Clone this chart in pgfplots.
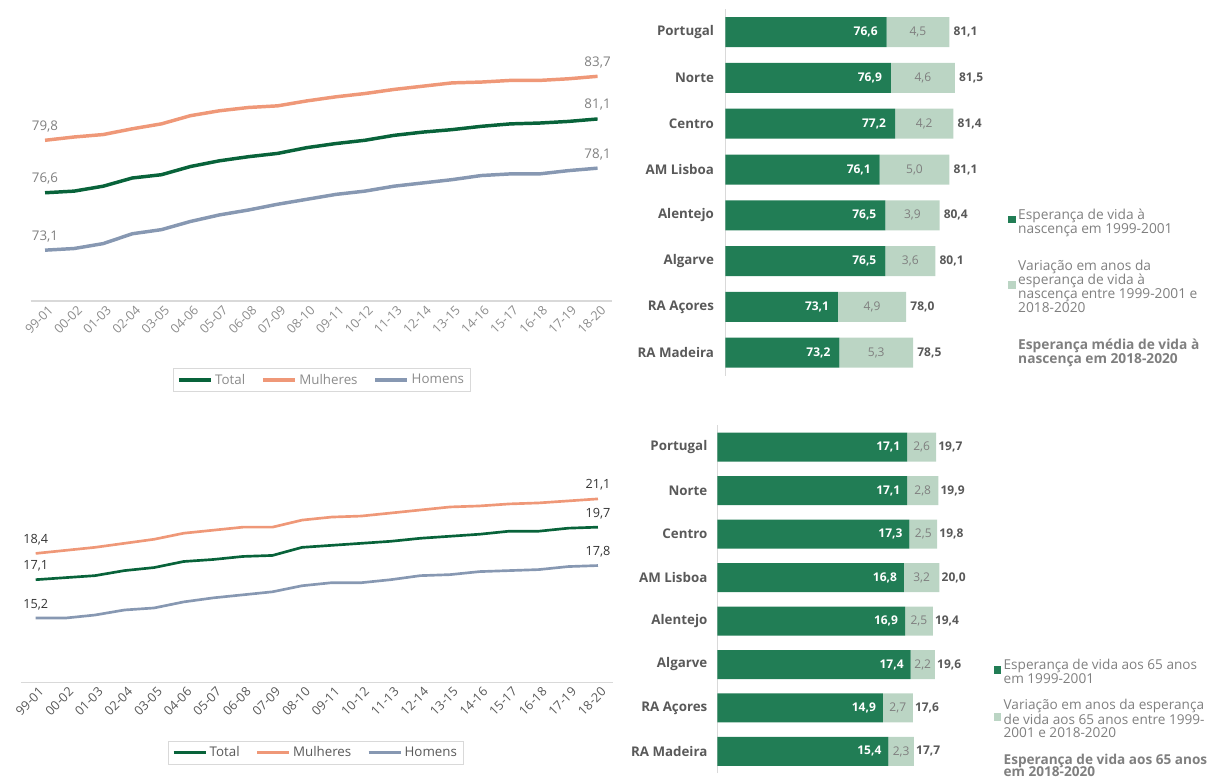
\documentclass[border=0pt]{standalone}
\usepackage{fontspec}
\setmainfont{Open Sans}
\usepackage{pgfplots}
\pgfplotsset{compat=1.18}
\definecolor{cTotal}{HTML}{08633A}
\definecolor{cMul}{HTML}{EF9878}
\definecolor{cHom}{HTML}{8798B2}
\definecolor{cDark}{HTML}{217D55}
\definecolor{cLight}{HTML}{BBD5C4}
\definecolor{cTxt}{HTML}{595959}
\definecolor{cTick}{HTML}{8C8C8C}
\definecolor{cLbl}{HTML}{7F7F7F}
\definecolor{cAxis}{HTML}{D9D9D9}
\pgfplotsset{
  barbase/.style={
    scale only axis, ymin=-0.5, ymax=7.5,
    xtick=\empty, major tick length=0pt,
  },
}
\begin{document}
\begin{tikzpicture}
\useasboundingbox (0,0) rectangle (906.75pt,587.25pt);

% ---------------- top-left: life expectancy at birth ----------------
\begin{axis}[
  at={(22.875pt,361.5pt)}, anchor=south west,
  scale only axis, width=436.2pt, height=221.4pt,
  xmin=-0.5, xmax=19.5, ymin=70, ymax=88,
  axis x line*=bottom, axis y line=none,
  x axis line style={draw=cAxis, line width=0.8pt},
  xtick={0,...,19},
  xticklabels={99-01,00-02,01-03,02-04,03-05,04-06,05-07,06-08,07-09,08-10,09-11,10-12,11-13,12-14,13-15,14-16,15-17,16-18,17-19,18-20},
  x tick label style={rotate=45, anchor=north east, font=\fontsize{9.5}{10}\selectfont, text=cTick, inner sep=0.5pt, yshift=-2.5pt},
  major tick length=0pt, ytick=\empty,
  clip=false,
  legend columns=3,
  legend style={at={(0.501,-0.2676)}, anchor=center, draw=cAxis, font=\fontsize{10}{12}\selectfont, text=cTick, inner xsep=3pt, inner ysep=2pt, /tikz/every even column/.append style={column sep=10pt}},
  legend image code/.code={\draw[#1, line width=2.6pt] (0pt,0pt) -- (24pt,0pt);},
]
\addplot[cTotal, line width=2.6pt, line join=round] coordinates {
(0,76.6) (1,76.7) (2,77.0) (3,77.5) (4,77.7) (5,78.2) (6,78.55) (7,78.8) (8,79.0) (9,79.35)
(10,79.6) (11,79.8) (12,80.1) (13,80.3) (14,80.45) (15,80.65) (16,80.8) (17,80.85) (18,80.95) (19,81.1)};
\addlegendentry{Total}
\addplot[cMul, line width=2.6pt, line join=round] coordinates {
(0,79.8) (1,80.0) (2,80.15) (3,80.5) (4,80.8) (5,81.3) (6,81.6) (7,81.8) (8,81.9) (9,82.2)
(10,82.45) (11,82.65) (12,82.9) (13,83.1) (14,83.3) (15,83.35) (16,83.45) (17,83.45) (18,83.55) (19,83.7)};
\addlegendentry{Mulheres}
\addplot[cHom, line width=2.6pt, line join=round] coordinates {
(0,73.1) (1,73.2) (2,73.5) (3,74.1) (4,74.35) (5,74.85) (6,75.25) (7,75.55) (8,75.9) (9,76.2)
(10,76.5) (11,76.7) (12,77.0) (13,77.2) (14,77.4) (15,77.65) (16,77.75) (17,77.75) (18,77.95) (19,78.1)};
\addlegendentry{Homens}
\addplot[draw=none, forget plot, point meta=explicit symbolic, nodes near coords,
  every node near coord/.append style={anchor=south, yshift=6pt, inner sep=0pt, font=\fontsize{10}{12}\selectfont, text=cLbl}]
  coordinates {(0,76.6)[76,6] (19,81.1)[81,1] (0,79.8)[79,8] (19,83.7)[83,7] (0,73.1)[73,1] (19,78.1)[78,1]};
\end{axis}

% ---------------- bottom-left: life expectancy at 65 ----------------
\begin{axis}[
  at={(15.675pt,75.225pt)}, anchor=south west,
  scale only axis, width=443.9pt, height=181.8pt,
  xmin=-0.5, xmax=19.5, ymin=12, ymax=24,
  axis x line*=bottom, axis y line=none,
  x axis line style={draw=cAxis, line width=0.8pt},
  xtick={0,...,19},
  xticklabels={99-01,00-02,01-03,02-04,03-05,04-06,05-07,06-08,07-09,08-10,09-11,10-12,11-13,12-14,13-15,14-16,15-17,16-18,17-19,18-20},
  x tick label style={rotate=45, anchor=north east, font=\fontsize{9.5}{10}\selectfont, text=cTxt, inner sep=0.5pt, yshift=-2.5pt},
  major tick length=0pt, ytick=\empty,
  clip=false,
  legend columns=3,
  legend style={at={(0.4986,-0.288)}, anchor=center, draw=cAxis, font=\fontsize{10}{12}\selectfont, text=cTxt, inner xsep=3pt, inner ysep=2pt, /tikz/every even column/.append style={column sep=10pt}},
  legend image code/.code={\draw[#1, line width=2pt] (0pt,0pt) -- (24pt,0pt);},
]
\addplot[cTotal, line width=2pt, line join=round] coordinates {
(0,17.1) (1,17.2) (2,17.3) (3,17.55) (4,17.7) (5,18.0) (6,18.1) (7,18.25) (8,18.3) (9,18.7)
(10,18.8) (11,18.9) (12,19.0) (13,19.15) (14,19.25) (15,19.35) (16,19.5) (17,19.5) (18,19.65) (19,19.7)};
\addlegendentry{Total}
\addplot[cMul, line width=2pt, line join=round] coordinates {
(0,18.4) (1,18.55) (2,18.7) (3,18.9) (4,19.1) (5,19.4) (6,19.55) (7,19.7) (8,19.7) (9,20.05)
(10,20.2) (11,20.25) (12,20.4) (13,20.55) (14,20.7) (15,20.75) (16,20.85) (17,20.9) (18,21.0) (19,21.1)};
\addlegendentry{Mulheres}
\addplot[cHom, line width=2pt, line join=round] coordinates {
(0,15.2) (1,15.2) (2,15.35) (3,15.6) (4,15.7) (5,16.0) (6,16.2) (7,16.35) (8,16.5) (9,16.8)
(10,16.95) (11,16.95) (12,17.1) (13,17.3) (14,17.35) (15,17.5) (16,17.55) (17,17.6) (18,17.75) (19,17.8)};
\addlegendentry{Homens}
\addplot[draw=none, forget plot, point meta=explicit symbolic, nodes near coords,
  every node near coord/.append style={anchor=south, yshift=6pt, inner sep=0pt, font=\fontsize{9.5}{11}\selectfont, text=black!80}]
  coordinates {(0,17.1)[17,1] (19,19.7)[19,7] (0,18.4)[18,4] (19,21.1)[21,1] (0,15.2)[15,2] (19,17.8)[17,8]};
\end{axis}

% ---------------- top-right: bars at birth ----------------
\begin{axis}[barbase,
  at={(543.975pt,305.55pt)}, anchor=south west,
  width=208.65pt, height=274.8pt,
  xmin=65, xmax=85,
  xbar stacked, bar width=22.5pt,
  axis y line*=left, axis x line=none,
  y axis line style={draw=cAxis, line width=0.8pt},
  ytick={0,...,7},
  yticklabels={RA Madeira,RA Açores,Algarve,Alentejo,AM Lisboa,Centro,Norte,Portugal},
  y tick label style={font=\bfseries\fontsize{10}{11}\selectfont, text=cTxt, xshift=-5pt},
  legend cell align=left,
  legend style={at={(1.016,0.463)}, anchor=north west, draw=none, fill=none,
    font=\fontsize{10.3}{10.5}\selectfont, text=cLbl, cells={anchor=west, align=left}, row sep=14.5pt, inner sep=0pt},
]
\addplot[fill=cDark, draw=none,
  legend image code/.code={\fill[cDark] (0pt,-1pt) rectangle (5.5pt,4.5pt);}]
  coordinates {(73.2,0) (73.1,1) (76.5,2) (76.5,3) (76.1,4) (77.2,5) (76.9,6) (76.6,7)};
\addlegendentry{Esperança de vida à\\nascença em 1999-2001}
\addplot[fill=cLight, draw=none, point meta=explicit symbolic, nodes near coords,
  every node near coord/.append style={anchor=center, inner sep=0pt, text=cLbl, font=\fontsize{9}{10}\selectfont},
  legend image code/.code={\fill[cLight] (0pt,-1pt) rectangle (5.5pt,4.5pt);}]
  coordinates {(5.3,0)[5,3] (4.9,1)[4,9] (3.6,2)[3,6] (3.9,3)[3,9] (5.0,4)[5,0] (4.2,5)[4,2] (4.6,6)[4,6] (4.5,7)[4,5]};
\addlegendentry{Variação em anos da\\esperança de vida à\\nascença entre 1999-2001 e\\2018-2020}
\addlegendimage{empty legend}
\addlegendentry{\textbf{Esperança média de vida à}\\\textbf{nascença em 2018-2020}}
\end{axis}
% labels overlay (same geometry)
\begin{axis}[barbase,
  at={(543.975pt,305.55pt)}, anchor=south west,
  width=208.65pt, height=274.8pt,
  xmin=65, xmax=85, hide axis, clip=false,
]
\addplot[draw=none, point meta=explicit symbolic, nodes near coords,
  every node near coord/.append style={anchor=east, inner sep=0pt, xshift=-6.5pt, text=white, font=\bfseries\fontsize{9}{10}\selectfont}]
  coordinates {(73.2,0)[73,2] (73.1,1)[73,1] (76.5,2)[76,5] (76.5,3)[76,5] (76.1,4)[76,1] (77.2,5)[77,2] (76.9,6)[76,9] (76.6,7)[76,6]};
\addplot[draw=none, point meta=explicit symbolic, nodes near coords,
  every node near coord/.append style={anchor=west, inner sep=0pt, xshift=3pt, text=cTxt, font=\bfseries\fontsize{9}{10}\selectfont}]
  coordinates {(78.5,0)[78,5] (78.0,1)[78,0] (80.1,2)[80,1] (80.4,3)[80,4] (81.1,4)[81,1] (81.4,5)[81,4] (81.5,6)[81,5] (81.1,7)[81,1]};
\end{axis}

% ---------------- bottom-right: bars at 65 ----------------
\begin{axis}[barbase,
  at={(538.05pt,7.35pt)}, anchor=south west,
  width=199.8pt, height=260.85pt,
  xmin=0, xmax=24,
  xbar stacked, bar width=21.75pt,
  axis y line*=left, axis x line=none,
  y axis line style={draw=cAxis, line width=0.8pt},
  ytick={0,...,7},
  yticklabels={RA Madeira,RA Açores,Algarve,Alentejo,AM Lisboa,Centro,Norte,Portugal},
  y tick label style={font=\bfseries\fontsize{10}{11}\selectfont, text=cTxt, xshift=-4pt},
  legend cell align=left,
  legend style={at={(1.036,0.3355)}, anchor=north west, draw=none, fill=none,
    font=\fontsize{10.2}{10}\selectfont, text=cLbl, cells={anchor=west, align=left}, row sep=6.5pt, inner sep=0pt},
]
\addplot[fill=cDark, draw=none,
  legend image code/.code={\fill[cDark] (0pt,-1pt) rectangle (5.5pt,4.5pt);}]
  coordinates {(15.4,0) (14.9,1) (17.4,2) (16.9,3) (16.8,4) (17.3,5) (17.1,6) (17.1,7)};
\addlegendentry{Esperança de vida aos 65 anos\\em 1999-2001}
\addplot[fill=cLight, draw=none, point meta=explicit symbolic, nodes near coords,
  every node near coord/.append style={anchor=center, inner sep=0pt, text=cLbl, font=\fontsize{9}{10}\selectfont},
  legend image code/.code={\fill[cLight] (0pt,-1pt) rectangle (5.5pt,4.5pt);}]
  coordinates {(2.3,0)[2,3] (2.7,1)[2,7] (2.2,2)[2,2] (2.5,3)[2,5] (3.2,4)[3,2] (2.5,5)[2,5] (2.8,6)[2,8] (2.6,7)[2,6]};
\addlegendentry{Variação em anos da esperança\\de vida aos 65 anos entre 1999-\\2001 e 2018-2020}
\addlegendimage{empty legend}
\addlegendentry{\textbf{Esperança de vida aos 65 anos}\\[-1pt]\textbf{em 2018-2020}}
\end{axis}
\begin{axis}[barbase,
  at={(538.05pt,7.35pt)}, anchor=south west,
  width=199.8pt, height=260.85pt,
  xmin=0, xmax=24, hide axis, clip=false,
]
\addplot[draw=none, point meta=explicit symbolic, nodes near coords,
  every node near coord/.append style={anchor=east, inner sep=0pt, xshift=-5pt, text=white, font=\bfseries\fontsize{9}{10}\selectfont}]
  coordinates {(15.4,0)[15,4] (14.9,1)[14,9] (17.4,2)[17,4] (16.9,3)[16,9] (16.8,4)[16,8] (17.3,5)[17,3] (17.1,6)[17,1] (17.1,7)[17,1]};
\addplot[draw=none, point meta=explicit symbolic, nodes near coords,
  every node near coord/.append style={anchor=west, inner sep=0pt, xshift=1.5pt, text=cTxt, font=\bfseries\fontsize{9}{10}\selectfont}]
  coordinates {(17.7,0)[17,7] (17.6,1)[17,6] (19.6,2)[19,6] (19.4,3)[19,4] (20.0,4)[20,0] (19.8,5)[19,8] (19.9,6)[19,9] (19.7,7)[19,7]};
\end{axis}
\end{tikzpicture}
\end{document}
